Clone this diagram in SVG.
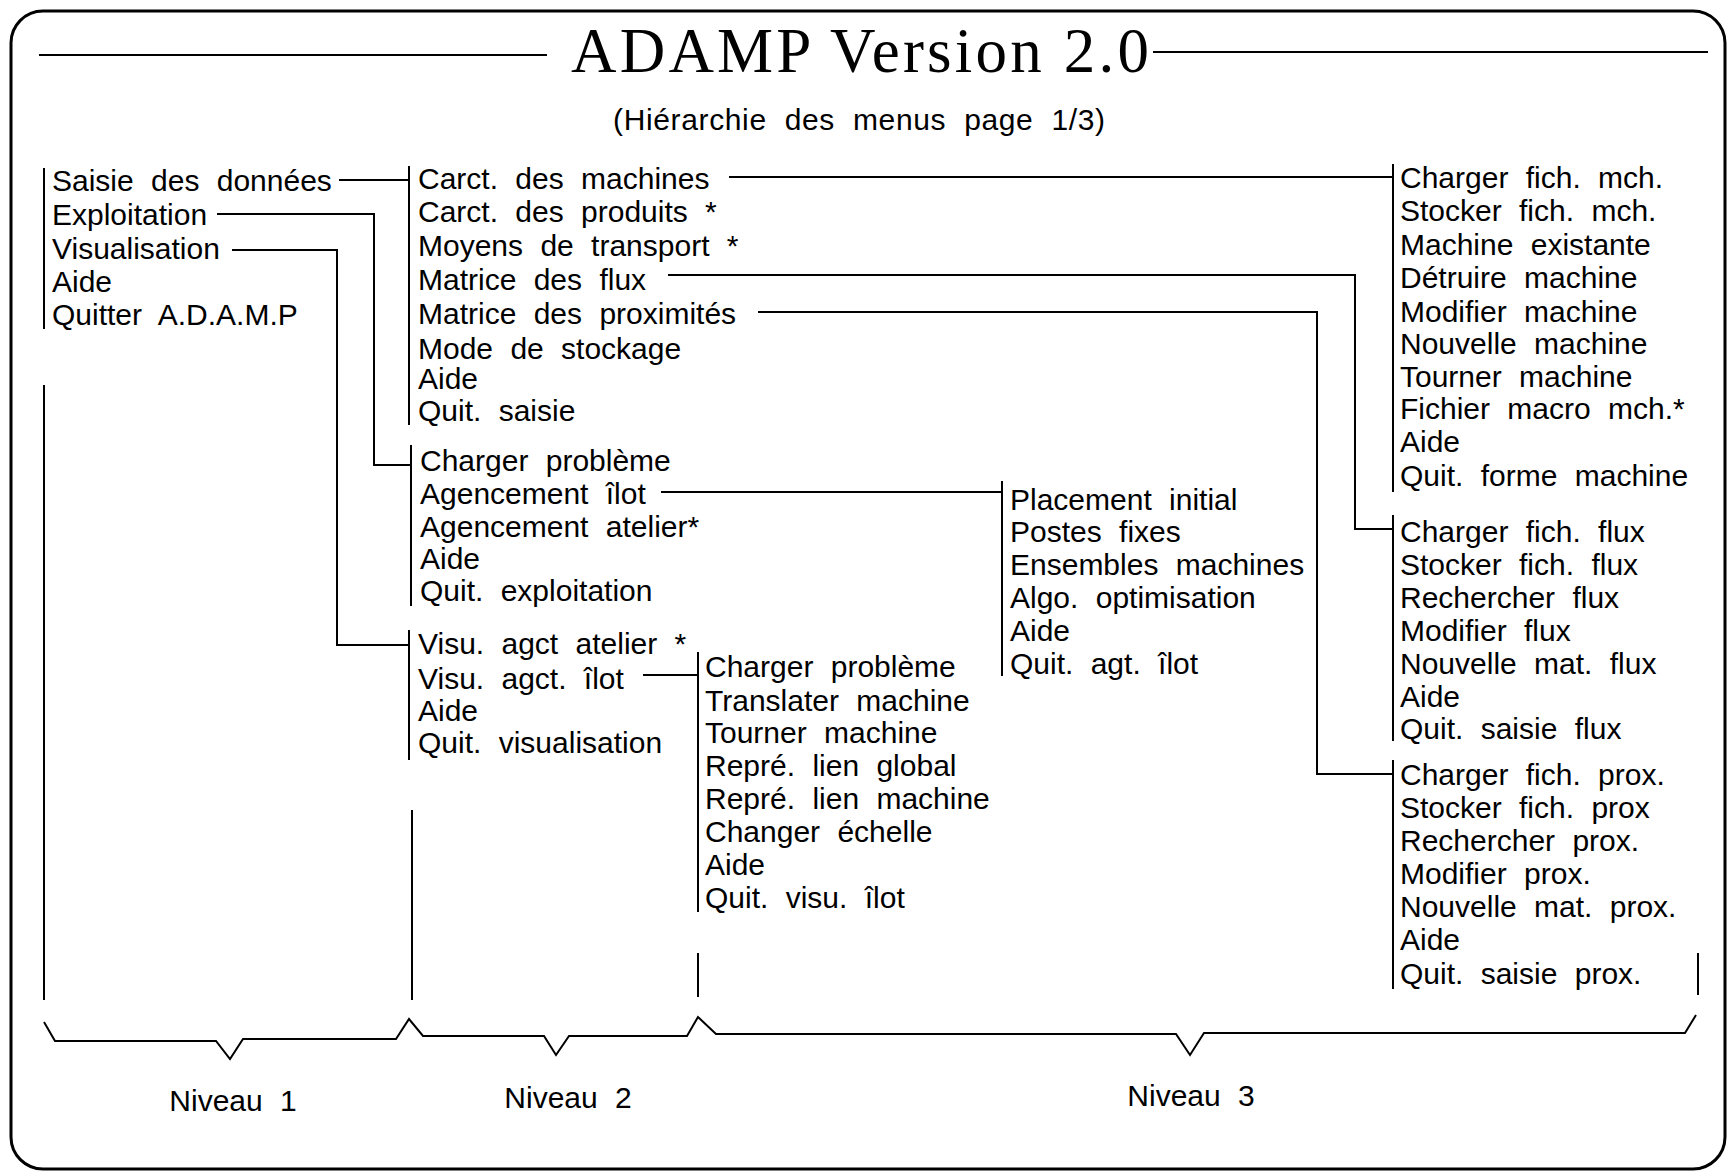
<svg xmlns="http://www.w3.org/2000/svg" width="1733" height="1174" viewBox="0 0 1733 1174">
<style>
  .t { font-family: "Liberation Sans", Arial, sans-serif; font-size: 30px; word-spacing: 9px; fill: #000; }
  .title { font-family: "Liberation Serif", "Times New Roman", serif; font-size: 63px; fill: #000; }
  .ln { stroke: #000; stroke-width: 2; fill: none; }
  .bar { stroke: #000; stroke-width: 2; }
</style>
<rect x="0" y="0" width="1733" height="1174" fill="#fff"/>
<rect x="11" y="11" width="1714" height="1158" rx="32" ry="32" fill="none" stroke="#000" stroke-width="3"/>

<g id="title">
  <line class="ln" x1="39" y1="55" x2="547" y2="55"/>
  <text class="title" x="571" y="72" textLength="578" lengthAdjust="spacing">ADAMP Version 2.0</text>
  <line class="ln" x1="1153" y1="52" x2="1708" y2="52"/>
  <text class="t" x="613" y="130" textLength="492" lengthAdjust="spacing">(Hiérarchie des menus page 1/3)</text>
</g>

<g id="connectors">
  <line class="ln" x1="339" y1="180" x2="409" y2="180"/>
  <polyline class="ln" points="217,214 374,214 374,465 411,465"/>
  <polyline class="ln" points="232,250 337,250 337,645 409,645"/>
  <line class="ln" x1="643" y1="675" x2="698" y2="675"/>
  <line class="ln" x1="661" y1="492" x2="1002" y2="492"/>
  <line class="ln" x1="729" y1="177" x2="1393" y2="177"/>
  <polyline class="ln" points="668,275 1355,275 1355,529 1393,529"/>
  <polyline class="ln" points="758,312 1317,312 1317,774 1393,774"/>
  <line class="ln" x1="44" y1="385" x2="44" y2="1000"/>
  <line class="ln" x1="412" y1="810" x2="412" y2="1000"/>
  <line class="ln" x1="698" y1="953" x2="698" y2="997"/>
  <line class="ln" x1="1698" y1="953" x2="1698" y2="995"/>
</g>

<g id="brace">
  <polyline class="ln" points="44,1022 55,1041 216,1041 230,1059 243,1039 396,1039 409,1019 423,1036 544,1036 556,1055 569,1036 687,1036 698,1017 716,1034 1176,1034 1190,1055 1204,1033 1685,1033 1696,1015"/>
  <text class="t" x="233" y="1111" text-anchor="middle">Niveau 1</text>
  <text class="t" x="568" y="1108" text-anchor="middle">Niveau 2</text>
  <text class="t" x="1191" y="1106" text-anchor="middle">Niveau 3</text>
</g>

<g id="menu-principal">
  <line class="bar" x1="44" y1="168" x2="44" y2="329"/>
  <text class="t" x="52" y="191">Saisie des données</text>
  <text class="t" x="52" y="225">Exploitation</text>
  <text class="t" x="52" y="259">Visualisation</text>
  <text class="t" x="52" y="292">Aide</text>
  <text class="t" x="52" y="325">Quitter A.D.A.M.P</text>
</g>

<g id="menu-saisie">
  <line class="bar" x1="409" y1="166" x2="409" y2="425"/>
  <text class="t" x="418" y="189">Carct. des machines</text>
  <text class="t" x="418" y="222">Carct. des produits *</text>
  <text class="t" x="418" y="256">Moyens de transport *</text>
  <text class="t" x="418" y="290">Matrice des flux</text>
  <text class="t" x="418" y="324">Matrice des proximités</text>
  <text class="t" x="418" y="359">Mode de stockage</text>
  <text class="t" x="418" y="389">Aide</text>
  <text class="t" x="418" y="421">Quit. saisie</text>
</g>

<g id="menu-exploitation">
  <line class="bar" x1="411" y1="445" x2="411" y2="606"/>
  <text class="t" x="420" y="471">Charger problème</text>
  <text class="t" x="420" y="504">Agencement îlot</text>
  <text class="t" x="420" y="537">Agencement atelier*</text>
  <text class="t" x="420" y="569">Aide</text>
  <text class="t" x="420" y="601">Quit. exploitation</text>
</g>

<g id="menu-visualisation">
  <line class="bar" x1="409" y1="630" x2="409" y2="760"/>
  <text class="t" x="418" y="654">Visu. agct atelier *</text>
  <text class="t" x="418" y="689">Visu. agct. îlot</text>
  <text class="t" x="418" y="721">Aide</text>
  <text class="t" x="418" y="753">Quit. visualisation</text>
</g>

<g id="menu-visu-ilot">
  <line class="bar" x1="698" y1="652" x2="698" y2="912"/>
  <text class="t" x="705" y="677">Charger problème</text>
  <text class="t" x="705" y="711">Translater machine</text>
  <text class="t" x="705" y="743">Tourner machine</text>
  <text class="t" x="705" y="776">Repré. lien global</text>
  <text class="t" x="705" y="809">Repré. lien machine</text>
  <text class="t" x="705" y="842">Changer échelle</text>
  <text class="t" x="705" y="875">Aide</text>
  <text class="t" x="705" y="908">Quit. visu. îlot</text>
</g>

<g id="menu-agencement-ilot">
  <line class="bar" x1="1002" y1="481" x2="1002" y2="676"/>
  <text class="t" x="1010" y="510">Placement initial</text>
  <text class="t" x="1010" y="542">Postes fixes</text>
  <text class="t" x="1010" y="575">Ensembles machines</text>
  <text class="t" x="1010" y="608">Algo. optimisation</text>
  <text class="t" x="1010" y="641">Aide</text>
  <text class="t" x="1010" y="674">Quit. agt. îlot</text>
</g>

<g id="menu-machines">
  <line class="bar" x1="1393" y1="164" x2="1393" y2="492"/>
  <text class="t" x="1400" y="188">Charger fich. mch.</text>
  <text class="t" x="1400" y="221">Stocker fich. mch.</text>
  <text class="t" x="1400" y="255">Machine existante</text>
  <text class="t" x="1400" y="288">Détruire machine</text>
  <text class="t" x="1400" y="322">Modifier machine</text>
  <text class="t" x="1400" y="354">Nouvelle machine</text>
  <text class="t" x="1400" y="387">Tourner machine</text>
  <text class="t" x="1400" y="419">Fichier macro mch.*</text>
  <text class="t" x="1400" y="452">Aide</text>
  <text class="t" x="1400" y="486">Quit. forme machine</text>
</g>

<g id="menu-flux">
  <line class="bar" x1="1393" y1="515" x2="1393" y2="741"/>
  <text class="t" x="1400" y="542">Charger fich. flux</text>
  <text class="t" x="1400" y="575">Stocker fich. flux</text>
  <text class="t" x="1400" y="608">Rechercher flux</text>
  <text class="t" x="1400" y="641">Modifier flux</text>
  <text class="t" x="1400" y="674">Nouvelle mat. flux</text>
  <text class="t" x="1400" y="707">Aide</text>
  <text class="t" x="1400" y="739">Quit. saisie flux</text>
</g>

<g id="menu-proximites">
  <line class="bar" x1="1393" y1="760" x2="1393" y2="989"/>
  <text class="t" x="1400" y="785">Charger fich. prox.</text>
  <text class="t" x="1400" y="818">Stocker fich. prox</text>
  <text class="t" x="1400" y="851">Rechercher prox.</text>
  <text class="t" x="1400" y="884">Modifier prox.</text>
  <text class="t" x="1400" y="917">Nouvelle mat. prox.</text>
  <text class="t" x="1400" y="950">Aide</text>
  <text class="t" x="1400" y="984">Quit. saisie prox.</text>
</g>
</svg>
